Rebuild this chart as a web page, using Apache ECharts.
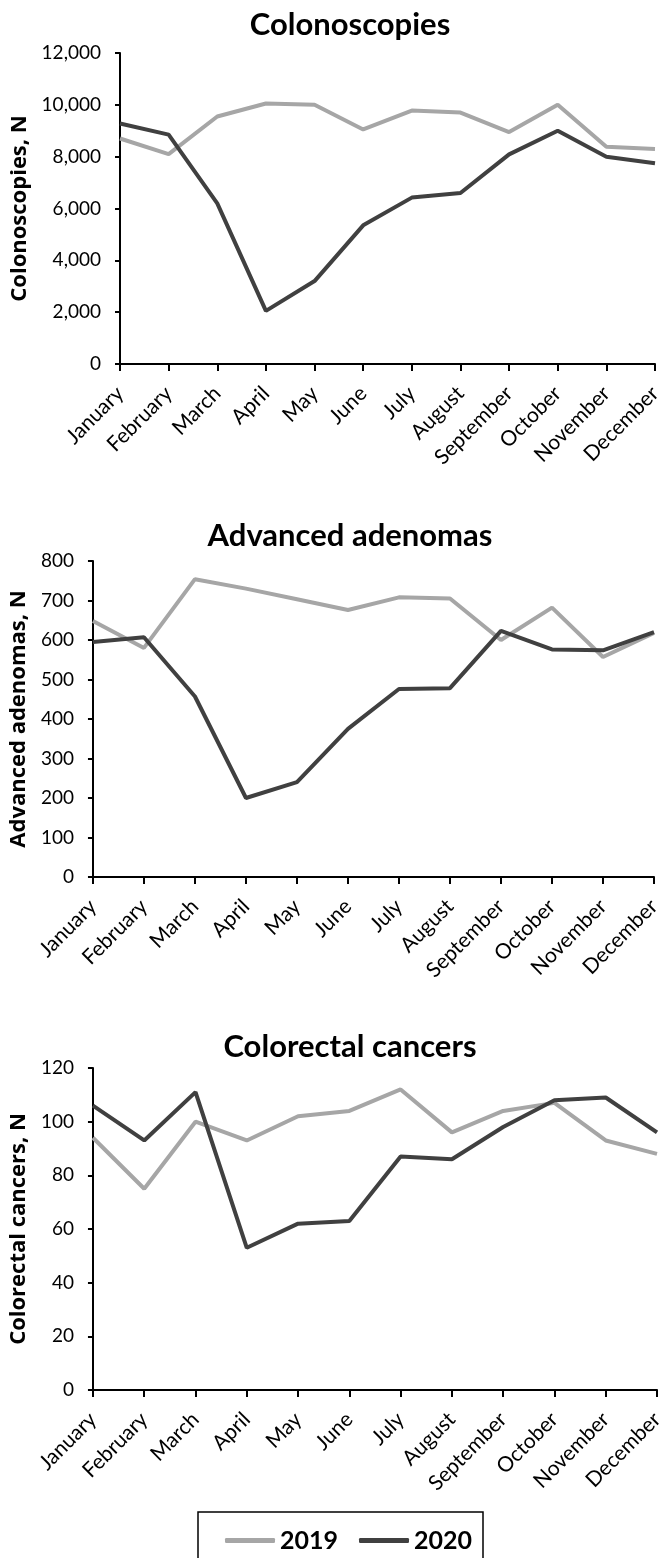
<!DOCTYPE html>
<html><head><meta charset="utf-8">
<script src="https://cdn.jsdelivr.net/npm/echarts@6/dist/echarts.min.js"></script>
<style>html,body{margin:0;padding:0;background:#fff}#c{width:667px;height:1558px}</style>
</head><body><div id="c"></div>
<script>
const months = ['January','February','March','April','May','June','July','August','September','October','November','December'];
const colon2019 = [8700,8100,9550,10050,10000,9050,9780,9700,8950,10000,8380,8300];
const colon2020 = [9280,8850,6200,2050,3200,5350,6420,6600,8090,9000,8000,7750];
const adeno2019 = [648,580,754,730,703,676,708,705,600,682,557,618];
const adeno2020 = [595,607,457,200,240,375,476,478,623,576,574,620];
const crc2019 = [94,75,100,93,102,104,112,96,104,107,93,88];
const crc2020 = [106,93,111,53,62,63,87,86,98,108,109,96];
const panelTitles = ['Colonoscopies','Advanced adenomas','Colorectal cancers'];
const yNames = ['Colonoscopies, N','Advanced adenomas, N','Colorectal cancers, N'];
const yMax = [12000,800,120];
const yStep = [2000,100,20];
const seriesNames = ['2019','2020'];

const C2019 = '#a6a6a6', C2020 = '#404040';
const tickFont = 'Lato,"Liberation Sans",sans-serif';
const titleFont = 'Lato,"Open Sans",sans-serif';
const nameFont = '"Open Sans","Noto Sans",sans-serif';

const grids = [
  {left:120, right:12, top:53, height:311},
  {left:89, right:13, top:561, height:316},
  {left:91, right:10, top:1068, height:322}
];
const titleTops = [4, 515, 1026];
const nameGaps = [80, 49, 52];
const data = [[colon2019,colon2020],[adeno2019,adeno2020],[crc2019,crc2020]];

const xAxes = [], yAxes = [], series = [], titles = [];
for (let i=0;i<3;i++){
  titles.push({text:panelTitles[i], left:345, top:titleTops[i], textAlign:'center',
    textStyle:{fontFamily:titleFont, fontWeight:'bold', fontSize:31, color:'#000'}});
  xAxes.push({type:'category', gridIndex:i, data:months, boundaryGap:false,
    axisLine:{lineStyle:{color:'#000', width:2}},
    axisTick:{show:true, length:7, lineStyle:{color:'#000', width:2}},
    axisLabel:{rotate:45, interval:0, color:'#000', fontFamily:tickFont, fontSize:21, margin:26},
    splitLine:{show:false}});
  yAxes.push({type:'value', gridIndex:i, min:0, max:yMax[i], interval:yStep[i],
    name:yNames[i], nameLocation:'middle', nameRotate:90, nameGap:nameGaps[i],
    nameTextStyle:{fontFamily:nameFont, fontWeight:'bold', fontSize:22, color:'#000'},
    axisLine:{show:true, lineStyle:{color:'#000', width:2}},
    axisTick:{show:true, length:5, lineStyle:{color:'#000', width:2}},
    axisLabel:{color:'#000', fontFamily:tickFont, fontSize:19, margin:19,
      formatter: v => v.toLocaleString('en-US')},
    splitLine:{show:false}});
  for (let s=0;s<2;s++){
    series.push({type:'line', name:seriesNames[s], xAxisIndex:i, yAxisIndex:i, data:data[i][s],
      symbol:'none', lineStyle:{width:4, color:s?C2020:C2019}, itemStyle:{color:s?C2020:C2019},
      z:s?3:2, animation:false});
  }
}

const chart = echarts.init(document.getElementById('c'), null, {renderer:'canvas'});
chart.setOption({
  animation:false,
  title:titles,
  grid:grids,
  xAxis:xAxes,
  yAxis:yAxes,
  series:series,
  legend:{data:seriesNames, left:220, top:1523, icon:'roundRect', itemWidth:50, itemHeight:5, itemGap:21,
    textStyle:{fontFamily:titleFont, fontWeight:'bold', fontSize:25, color:'#000'}},
  graphic:[{type:'rect', shape:{x:198, y:1512, width:285, height:60},
    style:{fill:'none', stroke:'#000', lineWidth:1.5}}]
});
</script></body></html>
